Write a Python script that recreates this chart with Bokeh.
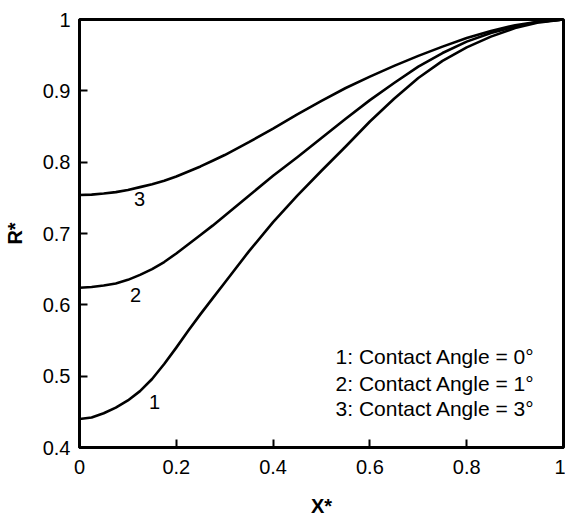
from bokeh.plotting import figure
from bokeh.models import FixedTicker, Range1d
from bokeh.core.properties import value
from bokeh.embed import file_html
from bokeh.resources import INLINE

# Dimensionless axial position X* and radius R* for three contact angles
# (finer sampling near the entrance where the profiles bend most)
x_star = [0.0, 0.025, 0.05, 0.075, 0.1, 0.125, 0.15, 0.175, 0.2, 0.225, 0.25, 0.275, 0.3,
          0.35, 0.4, 0.45, 0.5, 0.55, 0.6, 0.65, 0.7, 0.75, 0.8, 0.85, 0.9, 0.95, 1.0]
r_angle0 = [0.440, 0.442, 0.448, 0.456, 0.466, 0.479, 0.496, 0.517, 0.540, 0.564, 0.587, 0.609, 0.631,
            0.675, 0.716, 0.753, 0.788, 0.822, 0.857, 0.889, 0.918, 0.942, 0.961, 0.976, 0.988, 0.996, 1.0]
r_angle1 = [0.624, 0.625, 0.627, 0.630, 0.635, 0.642, 0.650, 0.660, 0.672, 0.685, 0.698, 0.711, 0.725,
            0.753, 0.781, 0.807, 0.834, 0.861, 0.887, 0.911, 0.934, 0.953, 0.969, 0.981, 0.990, 0.997, 1.0]
r_angle3 = [0.754, 0.7545, 0.756, 0.758, 0.761, 0.765, 0.769, 0.774, 0.780, 0.787, 0.794, 0.802, 0.810,
            0.828, 0.847, 0.867, 0.886, 0.904, 0.920, 0.935, 0.949, 0.962, 0.974, 0.984, 0.992, 0.997, 1.0]

curve_ids = ["1", "2", "3"]
curve_label_x = [0.155, 0.116, 0.124]
curve_label_y = [0.464, 0.614, 0.748]

legend_lines = ["1: Contact Angle = 0°", "2: Contact Angle = 1°", "3: Contact Angle = 3°"]

x_ticks = [0, 0.2, 0.4, 0.6, 0.8, 1]
x_tick_labels = ["0", "0.2", "0.4", "0.6", "0.8", "1"]
y_ticks = [0.4, 0.5, 0.6, 0.7, 0.8, 0.9, 1]
y_tick_labels = ["0.4", "0.5", "0.6", "0.7", "0.8", "0.9", "1"]

FONT = "Liberation Sans"

p = figure(width=565, height=519, output_backend="svg", toolbar_location=None,
           x_range=Range1d(0, 1), y_range=Range1d(0.4, 1),
           min_border_left=79, min_border_right=2, min_border_top=19, min_border_bottom=66)
p.grid.visible = False
p.background_fill_color = "white"
p.border_fill_color = "white"
p.outline_line_color = "black"
p.outline_line_width = 3

p.xaxis.ticker = FixedTicker(ticks=x_ticks)
p.xaxis.major_label_overrides = {t: s for t, s in zip(x_ticks, x_tick_labels)}
p.yaxis.ticker = FixedTicker(ticks=y_ticks)
p.yaxis.major_label_overrides = {t: s for t, s in zip(y_ticks, y_tick_labels)}

for ax in (p.xaxis, p.yaxis):
    ax.axis_line_width = 3
    ax.axis_line_color = "black"
    ax.major_tick_in = 8
    ax.major_tick_out = 0
    ax.major_tick_line_width = 2
    ax.minor_tick_line_color = None
    ax.major_label_text_font = FONT
    ax.major_label_text_font_size = "20px"
    ax.major_label_text_color = "black"
    ax.axis_label_text_font = FONT
    ax.axis_label_text_font_size = "20px"
    ax.axis_label_text_font_style = "bold"
    ax.axis_label_text_color = "black"

p.xaxis.axis_label = "X*"
p.yaxis.axis_label = "R*"
p.xaxis.major_label_standoff = 12
p.yaxis.major_label_standoff = 9
p.xaxis.axis_label_standoff = 18
p.yaxis.axis_label_standoff = 14

for ys in (r_angle0, r_angle1, r_angle3):
    p.line(x_star, ys, line_color="black", line_width=2.6, line_join="round")

p.text(x=curve_label_x, y=curve_label_y, text=curve_ids,
       text_font=value(FONT), text_font_size="20px", text_color="black",
       text_align="center", text_baseline="middle")

p.text(x=[0.529] * 3, y=[0.527, 0.490, 0.454], text=legend_lines,
       text_font=value(FONT), text_font_size="21px", text_color="black",
       text_align="left", text_baseline="middle")

open("out.html", "w").write(file_html(p, INLINE))
